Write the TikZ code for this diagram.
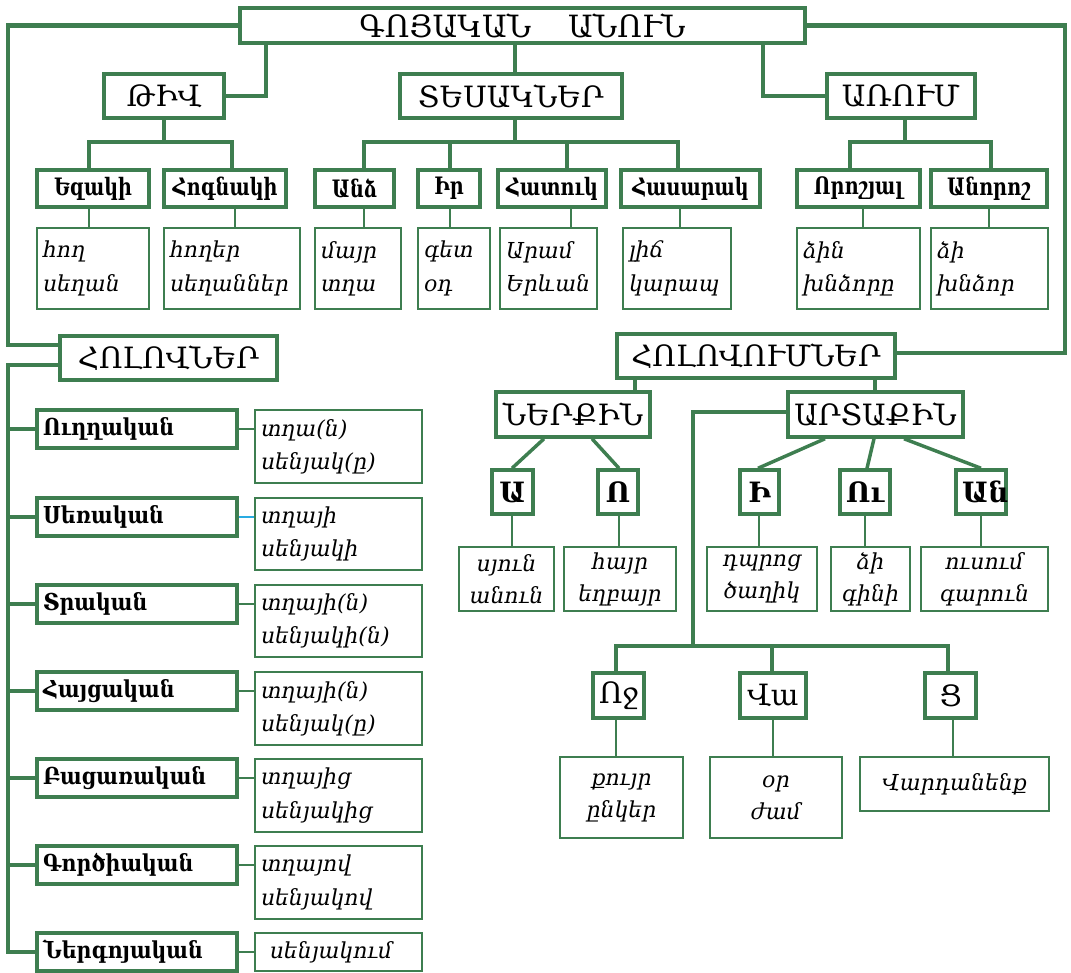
\documentclass[tikz,border=0pt]{standalone}
\usepackage{fontspec}
\setmainfont{DejaVu Serif}
\newfontfamily\condfont[FakeStretch=0.8]{DejaVu Serif}
\newfontfamily\casefont[FakeStretch=0.88]{DejaVu Serif}
\definecolor{gr}{RGB}{62,126,80}
\definecolor{bl}{RGB}{41,171,226}
\newcommand{\bx}[7]{%
  \pgfmathsetmacro\bxw{(#4-#2)*0.75}%
  \pgfmathsetmacro\bxh{(#5-#3)*0.75}%
  \pgfmathsetmacro\bxt{(#4-#2-12)*0.75}%
  \node[#6, minimum width=\bxw pt, minimum height=\bxh pt, text width=\bxt pt] (#1) at ({(#2+#4)/2},{(#3+#5)/2}) {#7};}
\tikzset{
  ttl/.style={draw=gr, line width=3.4pt, inner sep=0pt, align=center, font=\fontsize{23}{28}\selectfont},
  hd/.style={draw=gr, line width=2.6pt, inner sep=0pt, align=center, font=\fontsize{22}{25}\selectfont},
  hdb/.style={draw=gr, line width=2.6pt, inner sep=0pt, align=center, font=\bfseries\fontsize{21}{25}\selectfont},
  sub/.style={draw=gr, line width=2.6pt, inner sep=0pt, align=center, font=\condfont\bfseries\fontsize{18}{20}\selectfont},
  cas/.style={draw=gr, line width=2.6pt, inner sep=0pt, align=left, font=\casefont\bfseries\fontsize{17.5}{20}\selectfont},
  exl/.style={draw=gr, line width=1.3pt, inner sep=0pt, align=left, font=\itshape\fontsize{16.5}{25}\selectfont},
  exc/.style={draw=gr, line width=1.3pt, inner sep=0pt, align=center, font=\itshape\fontsize{16.5}{24}\selectfont},
  conn/.style={draw=gr, line width=2.6pt},
  lnk/.style={draw=gr, line width=1.6pt},
}
\begin{document}
\begin{tikzpicture}[x=0.75pt,y=-0.75pt]
\useasboundingbox (0,0) rectangle (1071,973);
% top
\bx{title}{240}{8}{805}{43}{ttl}{ԳՈՅԱԿԱՆ\hspace{1.2em}ԱՆՈՒՆ}
\bx{tiv}{104}{74}{224}{118}{hd}{ԹԻՎ}
\bx{tes}{400}{74}{622}{118}{hd}{ՏԵՍԱԿՆԵՐ}
\bx{arum}{827}{74}{975}{118}{hd}{ԱՌՈՒՄ}
% sub headers
\bx{ezaki}{37}{170}{149}{207}{sub}{Եզակի}
\bx{hognaki}{164}{170}{286}{207}{sub}{Հոգնակի}
\bx{andz}{315}{170}{394}{207}{sub}{Անձ}
\bx{ir}{418}{170}{480}{207}{sub}{Իր}
\bx{hatuk}{498}{170}{606}{207}{sub}{Հատուկ}
\bx{hasarak}{621}{170}{760}{207}{sub}{Հասարակ}
\bx{vorosh}{797}{170}{920}{207}{sub}{Որոշյալ}
\bx{anorosh}{931}{170}{1047}{207}{sub}{Անորոշ}
% examples
\bx{e1}{37}{228}{149}{309}{exl}{հող\\սեղան}
\bx{e2}{164}{228}{300}{309}{exl}{հողեր\\սեղաններ}
\bx{e3}{315}{228}{401}{309}{exl}{մայր\\տղա}
\bx{e4}{418}{228}{490}{309}{exl}{գետ\\օդ}
\bx{e5}{500}{228}{597}{309}{exl}{Արամ\\Երևան}
\bx{e6}{623}{228}{731}{309}{exl}{լիճ\\կարապ}
\bx{e7}{797}{228}{920}{309}{exl}{ձին\\խնձորը}
\bx{e8}{931}{228}{1048}{309}{exl}{ձի\\խնձոր}
% left column
\bx{holovner}{60}{336}{277}{380}{hd}{ՀՈԼՈՎՆԵՐ}
\bx{c1}{37}{410}{237}{448}{cas}{Ուղղական}
\bx{c2}{37}{498}{237}{536}{cas}{Սեռական}
\bx{c3}{37}{585}{237}{623}{cas}{Տրական}
\bx{c4}{37}{672}{237}{710}{cas}{Հայցական}
\bx{c5}{37}{759}{237}{797}{cas}{Բացառական}
\bx{c6}{37}{846}{237}{884}{cas}{Գործիական}
\bx{c7}{37}{933}{237}{971}{cas}{Ներգոյական}
\bx{x1}{255}{410}{422}{483}{exl}{տղա(ն)\\սենյակ(ը)}
\bx{x2}{255}{498}{422}{570}{exl}{տղայի\\սենյակի}
\bx{x3}{255}{585}{422}{657}{exl}{տղայի(ն)\\սենյակի(ն)}
\bx{x4}{255}{672}{422}{745}{exl}{տղայի(ն)\\սենյակ(ը)}
\bx{x5}{255}{759}{422}{832}{exl}{տղայից\\սենյակից}
\bx{x6}{255}{846}{422}{919}{exl}{տղայով\\սենյակով}
\bx{x7}{255}{933}{422}{971}{exl}{\hspace{0.4em}սենյակում}
% right part
\bx{holovum}{617}{334}{895}{378}{hd}{ՀՈԼՈՎՈՒՄՆԵՐ}
\bx{nerkin}{496}{392}{650}{437}{hd}{ՆԵՐՔԻՆ}
\bx{artakin}{788}{392}{963}{437}{hd}{ԱՐՏԱՔԻՆ}
\bx{sa}{492}{470}{533}{514}{hdb}{Ա}
\bx{so}{598}{470}{638}{514}{hdb}{Ո}
\bx{si}{740}{470}{779}{514}{hdb}{Ի}
\bx{su}{840}{470}{890}{514}{hdb}{Ու}
\bx{san}{956}{470}{1006}{514}{hdb}{Ան}
\bx{ya}{459}{547}{554}{611}{exc}{սյուն\\անուն}
\bx{yo}{564}{547}{676}{611}{exc}{հայր\\եղբայր}
\bx{yi}{707}{547}{817}{611}{exc}{դպրոց\\ծաղիկ}
\bx{yu}{831}{547}{910}{611}{exc}{ձի\\գինի}
\bx{yan}{921}{547}{1048}{611}{exc}{ուսում\\գարուն}
\bx{och}{593}{673}{644}{718}{hd}{Ոջ}
\bx{va}{740}{673}{806}{718}{hd}{Վա}
\bx{ts}{925}{673}{976}{718}{hd}{Ց}
\bx{zoch}{560}{757}{683}{838}{exc}{քույր\\ընկեր}
\bx{zva}{710}{757}{842}{838}{exc}{օր\\ժամ}
\bx{zts}{860}{757}{1049}{811}{exc}{Վարդանենք}
% connectors top
\draw[conn, line width=3.2pt] (title.west) -| (8,345) -- (8,345 -| holovner.west);
\draw[conn, line width=3.2pt] (title.east) -| (1065,353) -- (1065,353 -| holovum.east);
\draw[conn] (tiv.east) -| (266,0 |- title.south);
\draw[conn] (515,0 |- tes.north) -- (515,0 |- title.south);
\draw[conn, line width=3.2pt] (arum.west) -| (763,0 |- title.south);
\draw[conn] (164,0 |- tiv.south) -- (164,142);
\draw[conn] (89,0 |- ezaki.north) |- (232,142) -- (232,0 |- hognaki.north);
\draw[conn] (515,0 |- tes.south) -- (515,142);
\draw[conn] (364,0 |- andz.north) |- (678,142) -- (678,0 |- hasarak.north);
\draw[conn] (450,0 |- ir.north) -- (450,142);
\draw[conn] (567,0 |- hatuk.north) -- (567,142);
\draw[conn] (905,0 |- arum.south) -- (905,142);
\draw[conn] (850,0 |- vorosh.north) |- (991,142) -- (991,0 |- anorosh.north);
\draw[lnk] (89,0 |- ezaki.south) -- (89,0 |- e1.north);
\draw[lnk] (235,0 |- hognaki.south) -- (235,0 |- e2.north);
\draw[lnk] (364,0 |- andz.south) -- (364,0 |- e3.north);
\draw[lnk] (450,0 |- ir.south) -- (450,0 |- e4.north);
\draw[lnk] (571,0 |- hatuk.south) -- (571,0 |- e5.north);
\draw[lnk] (680,0 |- hasarak.south) -- (680,0 |- e6.north);
\draw[lnk] (863,0 |- vorosh.south) -- (863,0 |- e7.north);
\draw[lnk] (989,0 |- anorosh.south) -- (989,0 |- e8.north);
% left column connectors
\draw[conn] (holovner.west |- 0,365) -| (8,0 |- c7.west) -- (c7.west);
\foreach \i in {1,...,6}{\draw[conn] (8,0 |- c\i.west) -- (c\i.west);}
\foreach \i in {1,3,4,5,6,7}{\draw[lnk] (c\i.east) -- (c\i.east -| x\i.west);}
\draw[bl, line width=1.4pt] (c2.east) -- (c2.east -| x2.west);
% right connectors
\draw[conn] (635,0 |- holovum.south) -- (635,0 |- nerkin.north);
\draw[conn] (875,0 |- holovum.south) -- (875,0 |- artakin.north);
\draw[conn] (artakin.west |- 0,412) -| (693,646);
\draw[conn] (616,0 |- och.north) |- (948,646) -- (948,0 |- ts.north);
\draw[conn] (772,0 |- va.north) -- (772,646);
\draw[conn] (544,0 |- nerkin.south) -- (512,0 |- sa.north);
\draw[conn] (592,0 |- nerkin.south) -- (619,0 |- so.north);
\draw[conn] (825,0 |- artakin.south) -- (758,0 |- si.north);
\draw[conn] (874,0 |- artakin.south) -- (867,0 |- su.north);
\draw[conn] (904,0 |- artakin.south) -- (981,0 |- san.north);
\draw[lnk] (512,0 |- sa.south) -- (512,0 |- ya.north);
\draw[lnk] (619,0 |- so.south) -- (619,0 |- yo.north);
\draw[lnk] (759,0 |- si.south) -- (759,0 |- yi.north);
\draw[lnk] (865,0 |- su.south) -- (865,0 |- yu.north);
\draw[lnk] (981,0 |- san.south) -- (981,0 |- yan.north);
\draw[lnk] (616,0 |- och.south) -- (616,0 |- zoch.north);
\draw[lnk] (773,0 |- va.south) -- (773,0 |- zva.north);
\draw[lnk] (953,0 |- ts.south) -- (953,0 |- zts.north);
\end{tikzpicture}
\end{document}
